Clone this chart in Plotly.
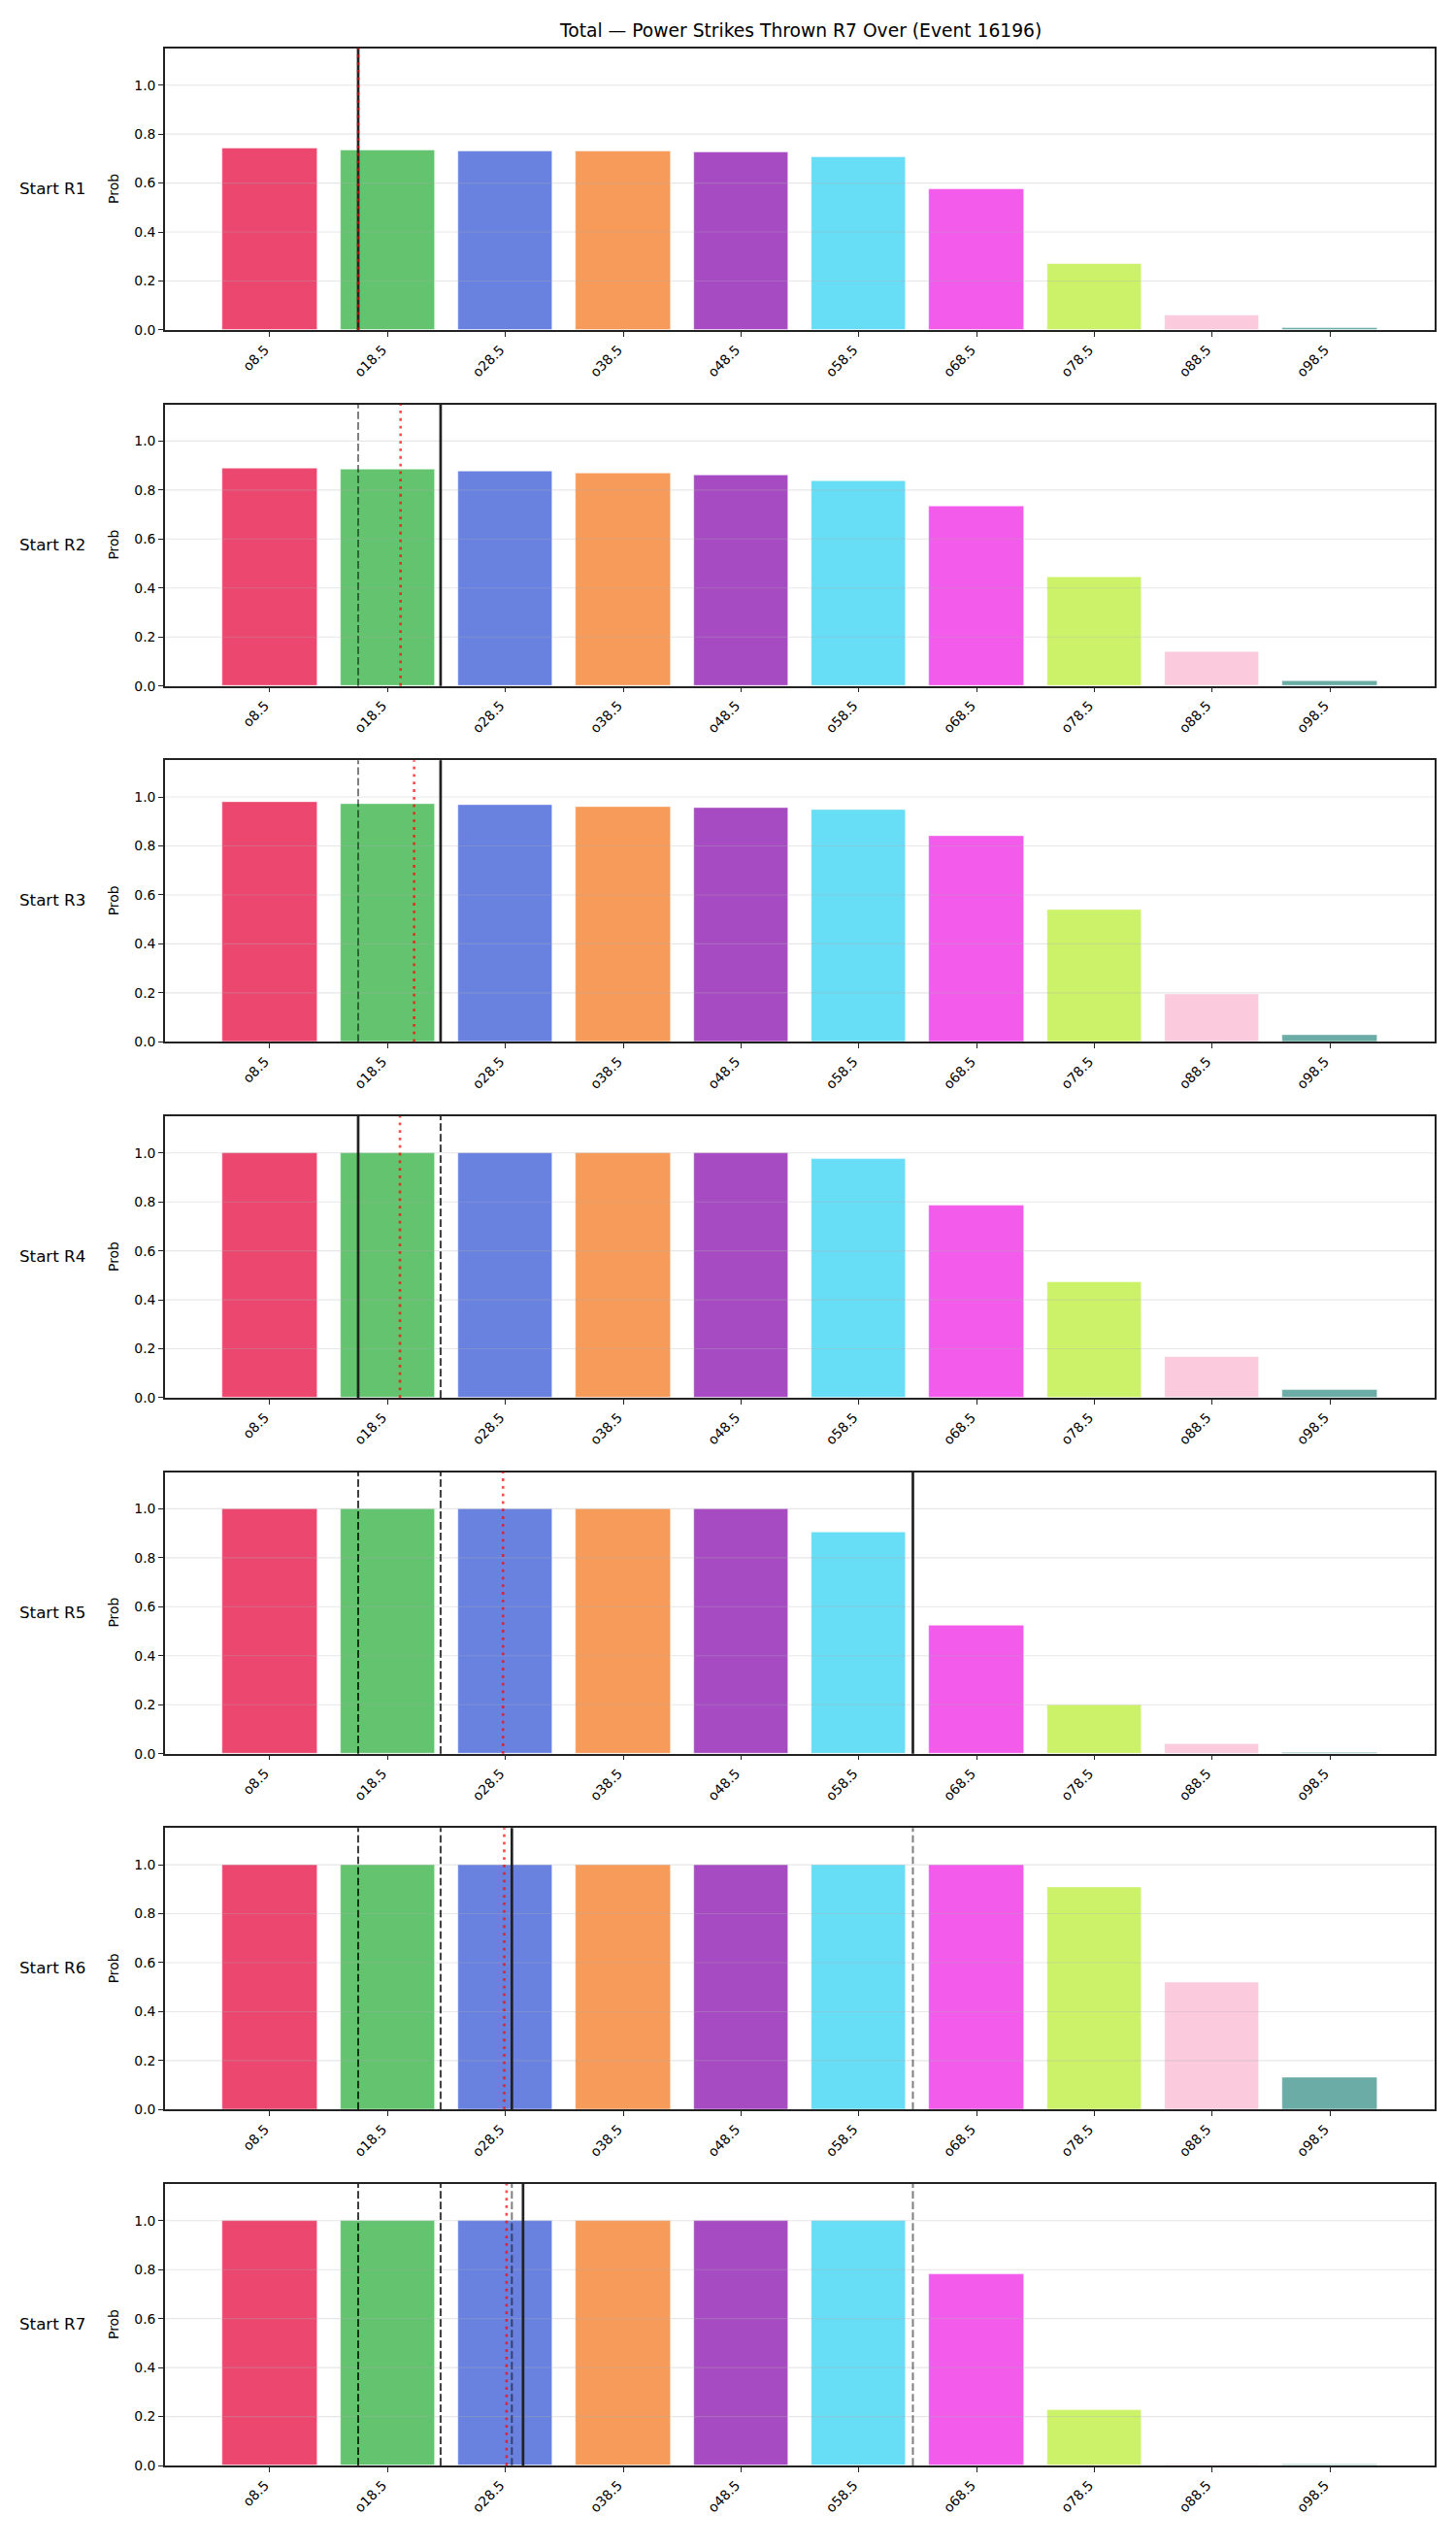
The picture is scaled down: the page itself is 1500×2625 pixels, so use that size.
import plotly.graph_objects as go

# ---------------- data ----------------
categories = ["o8.5", "o18.5", "o28.5", "o38.5", "o48.5", "o58.5", "o68.5", "o78.5", "o88.5", "o98.5"]
thresholds = [8.5, 18.5, 28.5, 38.5, 48.5, 58.5, 68.5, 78.5, 88.5, 98.5]
round_names = ["Start R1", "Start R2", "Start R3", "Start R4", "Start R5", "Start R6", "Start R7"]

probs_r1 = [0.743, 0.735, 0.731, 0.731, 0.727, 0.708, 0.577, 0.269, 0.059, 0.008]
probs_r2 = [0.889, 0.885, 0.877, 0.869, 0.861, 0.836, 0.735, 0.444, 0.139, 0.020]
probs_r3 = [0.981, 0.973, 0.969, 0.961, 0.957, 0.947, 0.840, 0.540, 0.193, 0.027]
probs_r4 = [1.000, 1.000, 1.000, 1.000, 1.000, 0.976, 0.787, 0.473, 0.167, 0.033]
probs_r5 = [1.000, 1.000, 1.000, 1.000, 1.000, 0.906, 0.522, 0.200, 0.040, 0.003]
probs_r6 = [1.000, 1.000, 1.000, 1.000, 1.000, 1.000, 1.000, 0.907, 0.520, 0.133]
probs_r7 = [1.000, 1.000, 1.000, 1.000, 1.000, 1.000, 0.782, 0.227, 0.006, 0.003]
all_probs = [probs_r1, probs_r2, probs_r3, probs_r4, probs_r5, probs_r6, probs_r7]

# value marked at start of each round (solid line; earlier rounds dashed)
round_marks = [16.0, 23.0, 23.0, 16.0, 63.1, 29.05, 30.0]
# projection (red dotted)
projections = [16.0, 19.6, 20.75, 19.55, 28.3, 28.4, 28.6]

ytick_vals = [0.0, 0.2, 0.4, 0.6, 0.8, 1.0]

bar_colors = ["rgba(230,25,75,0.8)", "rgba(60,180,75,0.8)", "rgba(67,99,216,0.8)",
              "rgba(245,130,49,0.8)", "rgba(145,30,180,0.8)", "rgba(66,212,244,0.8)",
              "rgba(240,50,230,0.8)", "rgba(191,239,69,0.8)", "rgba(250,190,212,0.8)",
              "rgba(70,153,144,0.8)"]

# ---------------- layout geometry ----------------
W, H = 1500, 2625
x_left, x_right = 170, 1478
top0, pitch, ph = 50, 367.8, 291
FONT = "DejaVu Sans"

fig = go.Figure()
shapes = []
annotations = []
layout_axes = {}

for i, probs in enumerate(all_probs):
    n = i + 1
    xa = "x" if n == 1 else f"x{n}"
    ya = "y" if n == 1 else f"y{n}"
    top = top0 + pitch * i
    bot = top + ph
    fig.add_trace(go.Bar(
        x=thresholds, y=probs, width=8,
        marker=dict(color=bar_colors, line=dict(color="rgba(255,255,255,0.8)", width=0.6)),
        xaxis=xa, yaxis=ya, showlegend=False, hoverinfo="x+y",
    ))
    layout_axes[f"xaxis{n if n > 1 else ''}"] = dict(
        domain=[x_left / W, x_right / W], anchor=ya,
        range=[-0.4, 107.4], tickmode="array", tickvals=thresholds, ticktext=categories,
        tickangle=-45, ticks="outside", ticklen=5, tickwidth=1.1, tickcolor="#222",
        ticklabelshift=-5,
        showline=True, linecolor="#222", linewidth=1.6, mirror=True,
        showgrid=False, zeroline=False,
        tickfont=dict(family=FONT, size=13.9, color="#000"),
    )
    layout_axes[f"yaxis{n if n > 1 else ''}"] = dict(
        domain=[1 - bot / H, 1 - top / H], anchor=xa,
        range=[0, 1.15], tickmode="array", tickvals=ytick_vals, tickformat=".1f",
        ticks="outside", ticklen=5, tickwidth=1.1, tickcolor="#222",
        showline=True, linecolor="#222", linewidth=1.6, mirror=True,
        showgrid=False, zeroline=False,
        tickfont=dict(family=FONT, size=13.9, color="#000"),
    )
    # gridlines above bars (like matplotlib)
    for v in ytick_vals[1:]:
        shapes.append(dict(type="line", xref=f"{xa} domain", yref=ya, x0=0, x1=1, y0=v, y1=v,
                           line=dict(color="rgba(176,176,176,0.3)", width=1.1), layer="above"))
    # earlier round marks: dashed gray
    for j in range(i):
        shapes.append(dict(type="line", xref=xa, yref=f"{ya} domain", x0=round_marks[j], x1=round_marks[j],
                           y0=0, y1=1, line=dict(color="rgba(0,0,0,0.5)", width=2, dash="7.7px,3.3px"),
                           layer="above"))
    # current round mark: solid
    shapes.append(dict(type="line", xref=xa, yref=f"{ya} domain", x0=round_marks[i], x1=round_marks[i],
                       y0=0, y1=1, line=dict(color="#222", width=2.7), layer="above"))
    # projection: red dotted
    shapes.append(dict(type="line", xref=xa, yref=f"{ya} domain", x0=projections[i], x1=projections[i],
                       y0=0, y1=1, line=dict(color="rgba(255,0,0,0.7)", width=2.6, dash="2.8px,5px"),
                       layer="above"))
    # row label and y-axis label
    yc = 1 - (top + ph / 2) / H
    annotations.append(dict(text=round_names[i], x=90 / W, y=1 - (top + ph / 2 - 1) / H,
                            xref="paper", yref="paper", xanchor="right", yanchor="middle",
                            showarrow=False, font=dict(family=FONT, size=16.7, color="#000")))
    annotations.append(dict(text="Prob", x=117 / W, y=yc, xref="paper", yref="paper",
                            xanchor="center", yanchor="middle", textangle=-90,
                            showarrow=False, font=dict(family=FONT, size=13.9, color="#000")))

annotations.append(dict(text="Total — Power Strikes Thrown R7 Over (Event 16196)",
                        x=(x_left + x_right) / 2 / W, y=1 - 32 / H, xref="paper", yref="paper",
                        xanchor="center", yanchor="middle", showarrow=False,
                        font=dict(family=FONT, size=18.7, color="#000")))

fig.update_layout(
    width=W, height=H, autosize=False,
    margin=dict(l=0, r=0, t=0, b=0),
    paper_bgcolor="white", plot_bgcolor="white",
    bargap=0, shapes=shapes, annotations=annotations,
    **layout_axes,
)

fig.write_html("out.html")
